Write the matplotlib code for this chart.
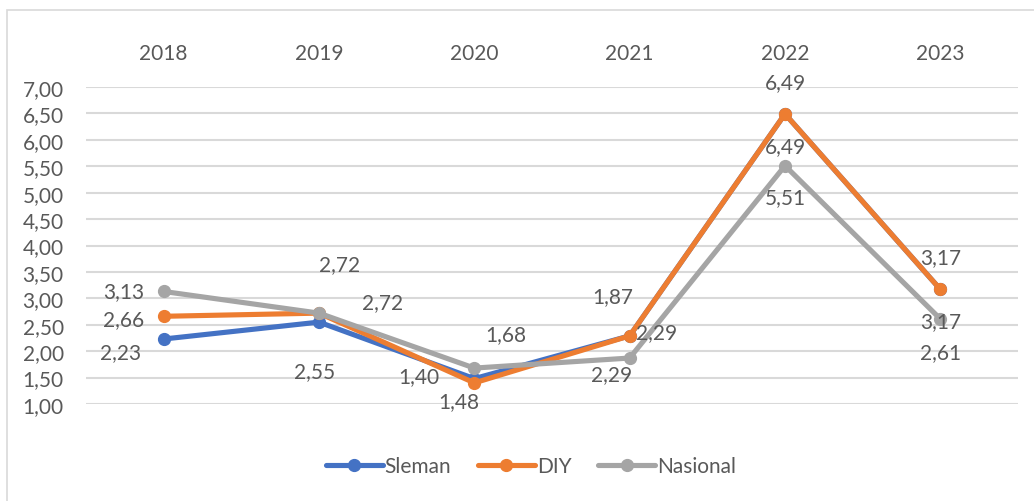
#! /usr/bin/env python3

import matplotlib
matplotlib.use("Agg")
import matplotlib.pyplot as plt
from matplotlib.patches import Rectangle

years = ["2018", "2019", "2020", "2021", "2022", "2023"]
sleman = [2.23, 2.55, 1.48, 2.29, 6.49, 3.17]
diy = [2.66, 2.72, 1.40, 2.29, 6.49, 3.17]
nasional = [3.13, 2.72, 1.68, 1.87, 5.51, 2.61]

# where each data label sits relative to its point (pixels, right/up)
sleman_off = [(-43, -13), (-4, -49), (-16, -22), (-18, -38), (0, -32), (0, -32)]
diy_off = [(-40, -3), (64, 11), (-56, 7), (27, 4), (0, 32), (0, 32)]
nasional_off = [(-40, 0), (21, 49), (31, 34), (-17, 62), (0, -31), (0, -33)]

plt.rcParams['font.family'] = ['Lato', 'DejaVu Sans']
TXT = "#595959"
FS = 15


def fmt(v):
    return f"{v:.2f}".replace(".", ",")


fig = plt.figure(figsize=(10.34, 5.02), dpi=100)
fig.patches.append(Rectangle((7 / 1034, -0.1), 1.2, 1.1 - 11 / 502, transform=fig.transFigure,
                             fill=False, edgecolor="#D9D9D9", linewidth=1.2))
ax = fig.add_axes([86 / 1034, 1 - 405 / 502, (1018 - 86) / 1034, (405 - 88) / 502])

x = list(range(len(years)))
series = [("Sleman", sleman, "#4472C4", sleman_off),
          ("DIY", diy, "#ED7D31", diy_off),
          ("Nasional", nasional, "#A5A5A5", nasional_off)]

for name, vals, col, offs in series:
    ax.plot(x, vals, color=col, lw=3.7, marker="o", ms=8.5, label=name, solid_capstyle="round")

for name, vals, col, offs in series:
    for xi, v, (dx, dy) in zip(x, vals, offs):
        ax.annotate(fmt(v), (xi, v), xytext=(dx, dy), textcoords="offset pixels",
                    ha="center", va="center", fontsize=FS, color=TXT)

ax.set_xlim(-0.5, len(years) - 0.5)
ax.set_ylim(1, 7)
ax.set_yticks([1 + 0.5 * i for i in range(13)])
ax.set_yticklabels([fmt(1 + 0.5 * i) for i in range(13)])
ax.set_xticks(x)
ax.set_xticklabels(years)
ax.xaxis.tick_top()
ax.tick_params(axis="x", length=0, pad=17, labelsize=FS, labelcolor=TXT)
ax.tick_params(axis="y", length=0, pad=16, labelsize=FS, labelcolor=TXT)
ax.grid(axis="y", color="#D9D9D9", lw=1.5)
ax.set_axisbelow(True)
for s in ax.spines.values():
    s.set_visible(False)

fig.legend(loc="center", bbox_to_anchor=(531 / 1034, 1 - 467 / 502), ncol=3, frameon=False,
           fontsize=FS, labelcolor=TXT, handlelength=2.7, handletextpad=0.1, columnspacing=1.3)

fig.savefig("out.png", dpi=100)
